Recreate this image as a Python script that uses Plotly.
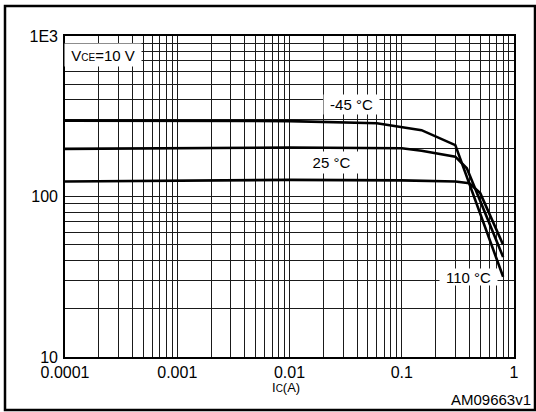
import math
import plotly.graph_objects as go

# ---- data ----
curve_a_x = [0.0001, 0.01, 0.06, 0.15, 0.3, 0.8]
curve_a_y = [297, 295, 286, 259, 209, 31.6]

curve_b_x = [0.0001, 0.01, 0.1, 0.15, 0.3, 0.38, 0.8]
curve_b_y = [198, 202, 200, 193, 177, 150, 42]

curve_c_x = [0.0001, 0.01, 0.1, 0.3, 0.4, 0.5, 0.8]
curve_c_y = [124, 127, 126, 124, 121, 105, 50]

x_tick_vals = [0.0001, 0.001, 0.01, 0.1, 1]
x_tick_labels = ["0.0001", "0.001", "0.01", "0.1", "1"]
y_tick_vals = [10, 100, 1000]
y_tick_labels = ["10", "100", "1E3"]

labels = ["-45 °C", "25 °C", "110 °C"]
label_x = [0.0358, 0.0237, 0.397]
label_y = [377, 163, 31.6]

FONT = "Liberation Sans, Arial, sans-serif"


def grid_values(lo_exp, hi_exp):
    vals = []
    for e in range(lo_exp, hi_exp):
        for k in range(1, 10):
            vals.append(k * 10 ** e)
    vals.append(10 ** hi_exp)
    return vals


def grid_text(vals, major_vals, major_labels):
    out = []
    for v in vals:
        txt = ""
        for mv, ml in zip(major_vals, major_labels):
            if abs(v - mv) / mv < 1e-9:
                txt = ml
        out.append(txt)
    return out


xg = grid_values(-4, 0)
yg = grid_values(1, 3)

fig = go.Figure()
for xs, ys in [(curve_a_x, curve_a_y), (curve_b_x, curve_b_y), (curve_c_x, curve_c_y)]:
    fig.add_trace(go.Scatter(x=xs, y=ys, mode="lines",
                             line=dict(color="black", width=2.6),
                             showlegend=False, hoverinfo="skip"))

annos = []
box_w = [53, 53, 55]
box_h = [17, 19, 14]
for t, lx, ly, bw, bh in zip(labels, label_x, label_y, box_w, box_h):
    annos.append(dict(x=math.log10(lx), y=math.log10(ly), xref="x", yref="y",
                      text=t, showarrow=False, bgcolor="white",
                      width=bw, height=bh,
                      font=dict(family=FONT, size=15, color="black")))

annos.append(dict(x=math.log10(0.000218), y=math.log10(762), xref="x", yref="y",
                  text="V<span style='font-size:10px'>CE</span>=10 V",
                  showarrow=False, bgcolor="white", width=74, height=20,
                  font=dict(family=FONT, size=15, color="black")))

annos.append(dict(x=(286 - 65) / 449, y=(357 - 388) / 321, xref="paper", yref="paper",
                  xanchor="center", yanchor="middle",
                  text="I<span style='font-size:10px'>C</span>(A)", showarrow=False,
                  font=dict(family=FONT, size=13, color="black")))
annos.append(dict(x=(533 - 65) / 449, y=(357 - 400) / 321, xref="paper", yref="paper",
                  xanchor="right", yanchor="middle", text="AM09663v1", showarrow=False,
                  font=dict(family=FONT, size=15, color="black")))

fig.update_layout(
    width=536, height=412, autosize=False,
    margin=dict(l=65, r=22, t=36, b=55),
    paper_bgcolor="white", plot_bgcolor="white",
    font=dict(family=FONT, size=15, color="black"),
    annotations=annos,
    shapes=[dict(type="rect", xref="paper", yref="paper",
                 x0=(5 - 65) / 449, x1=(535 - 65) / 449,
                 y0=(357 - 410) / 321, y1=(357 - 6) / 321,
                 line=dict(color="black", width=2.5), layer="above")],
)

fig.update_xaxes(type="log", range=[-4, 0], tickvals=xg,
                 ticktext=grid_text(xg, x_tick_vals, x_tick_labels),
                 showgrid=True, gridcolor="#1a1a1a", gridwidth=1,
                 showline=True, linecolor="black", linewidth=1.6, mirror=True,
                 ticks="", zeroline=False,
                 tickfont=dict(family=FONT, size=16, color="black"))
fig.update_yaxes(type="log", range=[1, 3], tickvals=yg,
                 ticktext=grid_text(yg, y_tick_vals, y_tick_labels),
                 showgrid=True, gridcolor="#1a1a1a", gridwidth=1,
                 showline=True, linecolor="black", linewidth=1.6, mirror=True,
                 ticks="", zeroline=False, ticklabelstandoff=2,
                 tickfont=dict(family=FONT, size=16, color="black"))

fig.write_html(
    "out.html",
    config={"displayModeBar": False},
    post_script="document.body.style.margin='0';document.body.style.overflow='hidden';",
)
